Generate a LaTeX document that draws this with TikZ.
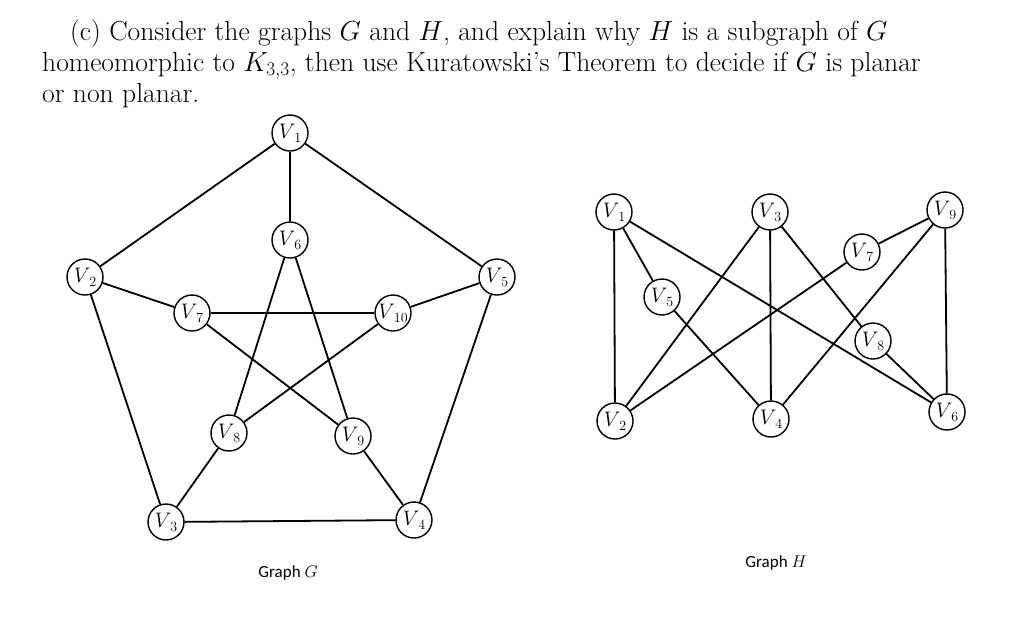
\RequirePackage{fix-cm}
\documentclass[tikz,border=0pt]{standalone}
\usepackage{fontspec}
\newfontfamily\calib{Carlito}
\newcommand{\vlab}[1]{$V$\kern-1pt\raisebox{-4pt}{\fontsize{14}{14}\selectfont #1}}
\begin{document}
\begin{tikzpicture}[x=1pt,y=-1pt,
  vx/.style={circle,draw,line width=1.4pt,minimum size=36pt,inner sep=0pt,fill=white,font=\fontsize{21}{24}\selectfont},
  ed/.style={line width=1.8pt},
  ttl/.style={anchor=base west,inner sep=0pt,font=\fontsize{27.6}{33}\selectfont}]
\useasboundingbox (0,0) rectangle (1024,633);
\node[ttl] (t1) at (70,40) {(c) Consider the graphs $G$ and $H$, and explain why $H$ is a subgraph of $G$};
\node[ttl] (t2) at (42,71) {homeomorphic to $K_{3,3}$, then use Kuratowski's Theorem to decide if $G$ is planar};
\node[ttl] (t3) at (42,102) {or non planar.};
% Graph G
\node[vx] (g1) at (290,133) {\vlab{1}};
\node[vx] (g6) at (290,240) {\vlab{6}};
\node[vx] (g2) at (85,277) {\vlab{2}};
\node[vx] (g5) at (497,277) {\vlab{5}};
\node[vx] (g7) at (192,313) {\vlab{7}};
\node[vx] (g10) at (393,313) {\vlab{10}};
\node[vx] (g8) at (229,433) {\vlab{8}};
\node[vx] (g9) at (353,436) {\vlab{9}};
\node[vx] (g3) at (166,522) {\vlab{3}};
\node[vx] (g4) at (414,520) {\vlab{4}};
\foreach \a/\b in {g1/g2,g1/g5,g1/g6,g2/g3,g2/g7,g5/g10,g5/g4,g3/g4,g3/g8,g4/g9,g7/g10,g7/g9,g6/g8,g6/g9,g8/g10}
  \draw[ed] (\a) -- (\b);
% Graph H
\node[vx] (h1) at (614,212) {\vlab{1}};
\node[vx] (h3) at (770,212) {\vlab{3}};
\node[vx] (h9) at (945,210) {\vlab{9}};
\node[vx] (h7) at (862,252) {\vlab{7}};
\node[vx] (h5) at (662,297) {\vlab{5}};
\node[vx] (h8) at (873,341) {\vlab{8}};
\node[vx] (h2) at (615,421) {\vlab{2}};
\node[vx] (h4) at (771,419) {\vlab{4}};
\node[vx] (h6) at (947,412) {\vlab{6}};
\foreach \a/\b in {h1/h2,h1/h5,h5/h4,h1/h6,h3/h2,h3/h4,h3/h8,h8/h6,h9/h7,h7/h2,h9/h4,h9/h6}
  \draw[ed] (\a) -- (\b);
\node[font=\calib\fontsize{17}{20}\selectfont] (lg) at (288,573) {Graph $G$};
\node[font=\calib\fontsize{17}{20}\selectfont] (lh) at (776,563) {Graph $H$};
\end{tikzpicture}
\end{document}
